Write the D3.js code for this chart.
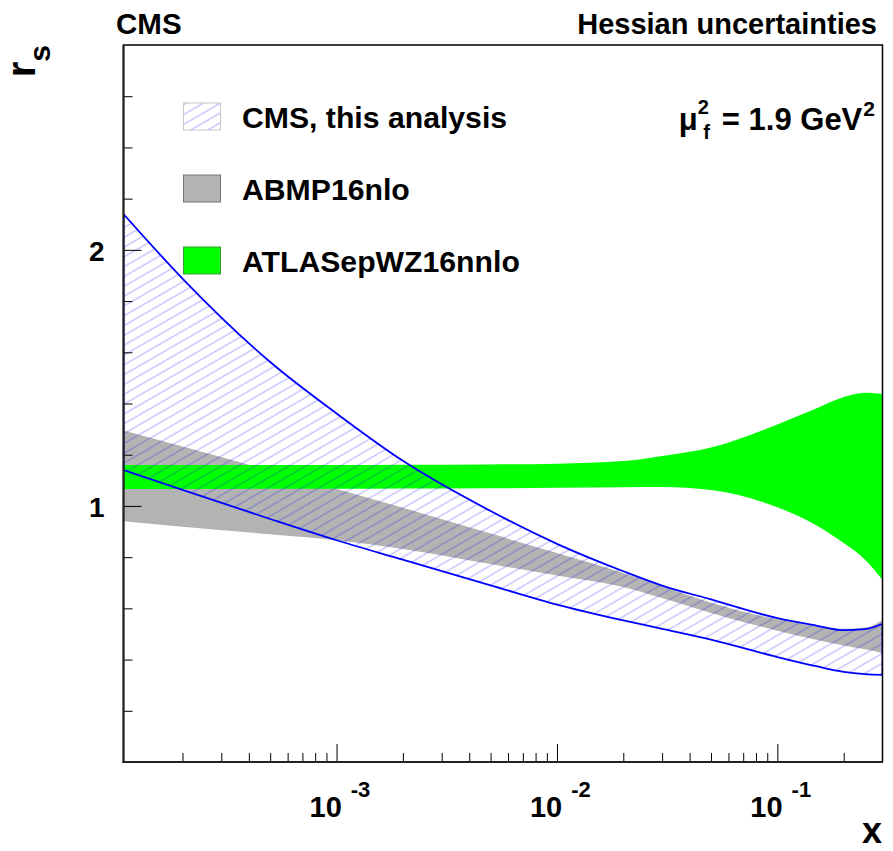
<!DOCTYPE html>
<html>
<head>
<meta charset="utf-8">
<script src="https://cdn.jsdelivr.net/npm/d3@7"></script>
<style>
  body { margin: 0; background: #fff; }
  svg text { font-family: "Liberation Sans", Arial, Helvetica, sans-serif; font-weight: bold; fill: #000; }
</style>
</head>
<body>
<div id="chart"></div>
<script>
// x grid (log scale) and the band edges
const xGrid   = [1.08e-4, 2e-4, 5e-4, 1e-3, 2e-3, 5e-3, 1e-2, 2e-2, 3e-2, 5e-2, 0.1, 0.15, 0.2, 0.25, 0.3];
const cmsUp   = [2.14, 1.888, 1.562, 1.361, 1.176, 0.98, 0.852, 0.745, 0.689, 0.635, 0.562, 0.533, 0.515, 0.519, 0.54];
const cmsDn   = [1.14, 1.063, 0.949, 0.866, 0.79, 0.69, 0.615, 0.553, 0.52, 0.478, 0.41, 0.374, 0.352, 0.343, 0.34];
const abmpUp  = [1.295, 1.232, 1.138, 1.066, 0.993, 0.892, 0.816, 0.738, 0.686, 0.622, 0.557, 0.53, 0.52, 0.525, 0.555];
const abmpDn  = [0.94, 0.919, 0.889, 0.866, 0.832, 0.773, 0.728, 0.683, 0.64, 0.582, 0.513, 0.477, 0.455, 0.44, 0.425];
const atlasUp = [1.16, 1.16, 1.16, 1.16, 1.161, 1.162, 1.165, 1.175, 1.195, 1.228, 1.318, 1.38, 1.425, 1.442, 1.437];
const atlasDn = [1.066, 1.066, 1.067, 1.067, 1.068, 1.069, 1.071, 1.073, 1.074, 1.062, 0.995, 0.925, 0.855, 0.79, 0.711];

const legendLabels = ["CMS, this analysis", "ABMP16nlo", "ATLASepWZ16nnlo"];
const xMajor = [1e-3, 1e-2, 1e-1];
const xMajorExp = ["-3", "-2", "-1"];
const yMajor = [0, 1, 2];
const yMinor = d3.range(0.2, 2.8, 0.2).filter(v => Math.abs(v - 1) > 1e-6 && Math.abs(v - 2) > 1e-6);

const W = 893, H = 851;
const pLeft = 123.5, pRight = 882.5, pTop = 45, pBottom = 762;

const svg = d3.select("#chart").append("svg")
    .attr("width", W)
    .attr("height", H);

const x = d3.scaleLog().domain([1.08e-4, 0.3]).range([pLeft, pRight]);
const y = d3.scaleLinear().domain([0, 2.8]).range([pBottom, pTop]);

// hatch pattern for the CMS band
const defs = svg.append("defs");
defs.append("pattern")
    .attr("id", "hatch")
    .attr("patternUnits", "userSpaceOnUse")
    .attr("width", 12)
    .attr("height", 8.5)
    .attr("patternTransform", "rotate(-30)")
  .append("line")
    .attr("x1", 0).attr("y1", 4).attr("x2", 12).attr("y2", 4)
    .attr("stroke", "rgba(0,0,255,0.33)")
    .attr("stroke-width", 1);

defs.append("clipPath").attr("id", "plotclip")
  .append("rect")
    .attr("x", pLeft).attr("y", pTop)
    .attr("width", pRight - pLeft).attr("height", pBottom - pTop);

const band = (up, dn) => d3.area()
    .x((d, i) => x(xGrid[i]))
    .y0((d, i) => y(dn[i]))
    .y1((d, i) => y(up[i]))
    .curve(d3.curveMonotoneX)(xGrid);

const plot = svg.append("g").attr("clip-path", "url(#plotclip)");

plot.append("path").attr("d", band(abmpUp, abmpDn)).attr("fill", "#b3b3b3");
plot.append("path").attr("d", band(atlasUp, atlasDn)).attr("fill", "#00ff00");
plot.append("path").attr("d", band(cmsUp, cmsDn))
    .attr("fill", "url(#hatch)")
    .attr("stroke", "#0000ff")
    .attr("stroke-width", 1.8);

// y axis ticks (pointing into the frame)
const yAxis = svg.append("g")
    .attr("transform", `translate(${pLeft},0)`)
    .call(d3.axisLeft(y).tickValues(yMajor).tickSize(-18).tickPadding(19)
        .tickFormat(d => d === 0 ? "" : d3.format("d")(d)));
yAxis.call(g => g.select(".domain").remove());
yAxis.selectAll("text").attr("font-size", 28).attr("dy", "0.37em");

const yAxisMinor = svg.append("g")
    .attr("transform", `translate(${pLeft},0)`)
    .call(d3.axisLeft(y).tickValues(yMinor).tickSize(-9).tickFormat(""));
yAxisMinor.call(g => g.select(".domain").remove());

// x axis ticks
const xMinor = [];
[1e-4, 1e-3, 1e-2, 1e-1].forEach(dec => {
  for (let k = 2; k <= 9; k++) {
    const v = dec * k;
    if (v > 1.08e-4 && v < 0.299) xMinor.push(v);
  }
});

const xAxis = svg.append("g")
    .attr("transform", `translate(0,${pBottom})`)
    .call(d3.axisBottom(x).tickValues(xMajor).tickSize(-18).tickFormat(""));
xAxis.call(g => g.select(".domain").remove());

const xAxisMinor = svg.append("g")
    .attr("transform", `translate(0,${pBottom})`)
    .call(d3.axisBottom(x).tickValues(xMinor).tickSize(-9).tickFormat(""));
xAxisMinor.call(g => g.select(".domain").remove());

svg.selectAll(".tick line").attr("stroke", "#000").attr("stroke-width", 1);

// x labels 10^n
xMajor.forEach((v, i) => {
  const t = svg.append("text")
      .attr("x", x(v) - 27)
      .attr("y", 817)
      .attr("font-size", 29);
  t.append("tspan").text("10");
  t.append("tspan").attr("dx", 9).attr("dy", -20).attr("font-size", 22).text(xMajorExp[i]);
});

// frame
svg.append("rect")
    .attr("x", pLeft).attr("y", pTop)
    .attr("width", pRight - pLeft).attr("height", pBottom - pTop)
    .attr("fill", "none").attr("stroke", "#000").attr("stroke-width", 1.5);
svg.append("line").attr("x1", pLeft).attr("x2", pLeft).attr("y1", pTop).attr("y2", pBottom + 1)
    .attr("stroke", "#222").attr("stroke-width", 2);
svg.append("line").attr("x1", pLeft - 1).attr("x2", pRight).attr("y1", pBottom).attr("y2", pBottom)
    .attr("stroke", "#222").attr("stroke-width", 2);

// axis titles
svg.append("text")
    .attr("x", 882).attr("y", 843)
    .attr("text-anchor", "end")
    .attr("font-size", 36)
    .text("x");

const yt = svg.append("text")
    .attr("transform", "translate(35,45) rotate(-90)")
    .attr("text-anchor", "end");
yt.append("tspan").attr("font-size", 40).text("r");
yt.append("tspan").attr("font-size", 30).attr("dy", 15).text("s");

// header texts
svg.append("text").attr("x", 116).attr("y", 34).attr("font-size", 29.5).text("CMS");
svg.append("text").attr("x", 877).attr("y", 34).attr("text-anchor", "end")
    .attr("font-size", 29).text("Hessian uncertainties");

// scale label: mu_f^2 = 1.9 GeV^2 (built from pieces, right aligned)
const muBase = 130;
const supGeV = svg.append("text")
    .attr("x", 875).attr("y", muBase - 14)
    .attr("text-anchor", "end")
    .attr("font-size", 21).text("2");
const supW = supGeV.node().getComputedTextLength();
const eqText = svg.append("text")
    .attr("x", 875 - supW - 1).attr("y", muBase)
    .attr("text-anchor", "end")
    .attr("font-size", 31).text("= 1.9 GeV");
const eqW = eqText.node().getComputedTextLength();
const eqStart = 875 - supW - 1 - eqW - 7;
const muSup = svg.append("text")
    .attr("x", eqStart - 6).attr("y", muBase - 16)
    .attr("text-anchor", "end")
    .attr("font-size", 20).text("2");
svg.append("text")
    .attr("x", eqStart - 5).attr("y", muBase + 9)
    .attr("text-anchor", "end")
    .attr("font-size", 20).text("f");
const supMuW = muSup.node().getComputedTextLength();
svg.append("text")
    .attr("x", eqStart - 6 - supMuW).attr("y", muBase)
    .attr("text-anchor", "end")
    .attr("font-weight", "normal")
    .attr("font-size", 31).text("μ");

// legend
const legendY = [128, 200, 272];
const legendFill = ["url(#hatch)", "#b3b3b3", "#00ff00"];
const legendStroke = ["#c8c8c8", "#777777", "#3c9c3c"];
const lg = svg.append("g");
legendLabels.forEach((lab, i) => {
  lg.append("rect")
      .attr("x", 183.5).attr("y", legendY[i] - 25)
      .attr("width", 37).attr("height", 27)
      .attr("fill", legendFill[i])
      .attr("stroke", legendStroke[i])
      .attr("stroke-width", 1);
  lg.append("text")
      .attr("x", 242).attr("y", legendY[i])
      .attr("font-size", 30.2)
      .text(lab);
});
</script>
</body>
</html>
